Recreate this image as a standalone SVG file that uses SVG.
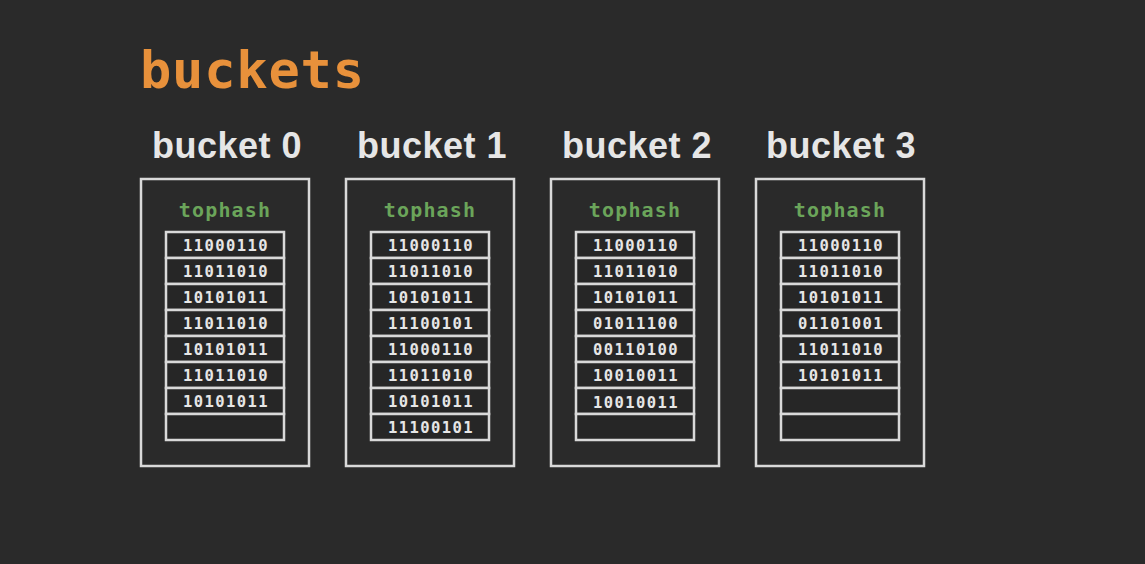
<svg xmlns="http://www.w3.org/2000/svg" width="1145" height="564" viewBox="0 0 1145 564">
<defs>
<style>
.bg{fill:#2a2a2a}
.outer{fill:none;stroke:#d9d9d9;stroke-width:2.5}
.cell{fill:#262626;stroke:#d9d9d9;stroke-width:2.5}
.title{font-family:"DejaVu Sans Mono","Liberation Mono",monospace;font-weight:bold;font-size:52px;fill:#e8913b;letter-spacing:0.8px}
.blabel{font-family:"Liberation Sans",Arial,sans-serif;font-weight:bold;font-size:36px;fill:#e6e6e6;text-anchor:middle;letter-spacing:0.5px}
.th{font-family:"DejaVu Sans Mono","Liberation Mono",monospace;font-weight:bold;font-size:20px;fill:#6ba55a;text-anchor:middle;letter-spacing:1.2px}
.bits{font-family:"DejaVu Sans Mono","Liberation Mono",monospace;font-weight:bold;font-size:15.5px;fill:#e6e6e6;text-anchor:middle;letter-spacing:1.4px}
</style>
</defs>
<rect class="bg" x="0" y="0" width="1145" height="564"/>
<text class="title" x="140" y="88">buckets</text>
<g id="connectors"></g>

<g id="bucket0">
<text class="blabel" x="227" y="158">bucket 0</text>
<rect class="outer" x="141" y="179" width="168" height="287"/>
<text class="th" x="225" y="217">tophash</text>
<rect class="cell" x="166" y="232" width="118" height="26"/><text class="bits" x="226" y="251">11000110</text>
<rect class="cell" x="166" y="258" width="118" height="26"/><text class="bits" x="226" y="277">11011010</text>
<rect class="cell" x="166" y="284" width="118" height="26"/><text class="bits" x="226" y="303">10101011</text>
<rect class="cell" x="166" y="310" width="118" height="26"/><text class="bits" x="226" y="329">11011010</text>
<rect class="cell" x="166" y="336" width="118" height="26"/><text class="bits" x="226" y="355">10101011</text>
<rect class="cell" x="166" y="362" width="118" height="26"/><text class="bits" x="226" y="381">11011010</text>
<rect class="cell" x="166" y="388" width="118" height="26"/><text class="bits" x="226" y="407">10101011</text>
<rect class="cell" x="166" y="414" width="118" height="26"/>
</g>

<g id="bucket1">
<text class="blabel" x="432" y="158">bucket 1</text>
<rect class="outer" x="346" y="179" width="168" height="287"/>
<text class="th" x="430" y="217">tophash</text>
<rect class="cell" x="371" y="232" width="118" height="26"/><text class="bits" x="431" y="251">11000110</text>
<rect class="cell" x="371" y="258" width="118" height="26"/><text class="bits" x="431" y="277">11011010</text>
<rect class="cell" x="371" y="284" width="118" height="26"/><text class="bits" x="431" y="303">10101011</text>
<rect class="cell" x="371" y="310" width="118" height="26"/><text class="bits" x="431" y="329">11100101</text>
<rect class="cell" x="371" y="336" width="118" height="26"/><text class="bits" x="431" y="355">11000110</text>
<rect class="cell" x="371" y="362" width="118" height="26"/><text class="bits" x="431" y="381">11011010</text>
<rect class="cell" x="371" y="388" width="118" height="26"/><text class="bits" x="431" y="407">10101011</text>
<rect class="cell" x="371" y="414" width="118" height="26"/><text class="bits" x="431" y="433">11100101</text>
</g>

<g id="bucket2">
<text class="blabel" x="637" y="158">bucket 2</text>
<rect class="outer" x="551" y="179" width="168" height="287"/>
<text class="th" x="635" y="217">tophash</text>
<rect class="cell" x="576" y="232" width="118" height="26"/><text class="bits" x="636" y="251">11000110</text>
<rect class="cell" x="576" y="258" width="118" height="26"/><text class="bits" x="636" y="277">11011010</text>
<rect class="cell" x="576" y="284" width="118" height="26"/><text class="bits" x="636" y="303">10101011</text>
<rect class="cell" x="576" y="310" width="118" height="26"/><text class="bits" x="636" y="329">01011100</text>
<rect class="cell" x="576" y="336" width="118" height="26"/><text class="bits" x="636" y="355">00110100</text>
<rect class="cell" x="576" y="362" width="118" height="26"/><text class="bits" x="636" y="381">10010011</text>
<rect class="cell" x="576" y="388" width="118" height="26"/><text class="bits" x="636" y="408">10010011</text>
<rect class="cell" x="576" y="414" width="118" height="26"/>
</g>

<g id="bucket3">
<text class="blabel" x="841" y="158">bucket 3</text>
<rect class="outer" x="756" y="179" width="168" height="287"/>
<text class="th" x="840" y="217">tophash</text>
<rect class="cell" x="781" y="232" width="118" height="26"/><text class="bits" x="841" y="251">11000110</text>
<rect class="cell" x="781" y="258" width="118" height="26"/><text class="bits" x="841" y="277">11011010</text>
<rect class="cell" x="781" y="284" width="118" height="26"/><text class="bits" x="841" y="303">10101011</text>
<rect class="cell" x="781" y="310" width="118" height="26"/><text class="bits" x="841" y="329">01101001</text>
<rect class="cell" x="781" y="336" width="118" height="26"/><text class="bits" x="841" y="355">11011010</text>
<rect class="cell" x="781" y="362" width="118" height="26"/><text class="bits" x="841" y="381">10101011</text>
<rect class="cell" x="781" y="388" width="118" height="26"/>
<rect class="cell" x="781" y="414" width="118" height="26"/>
</g>
</svg>
